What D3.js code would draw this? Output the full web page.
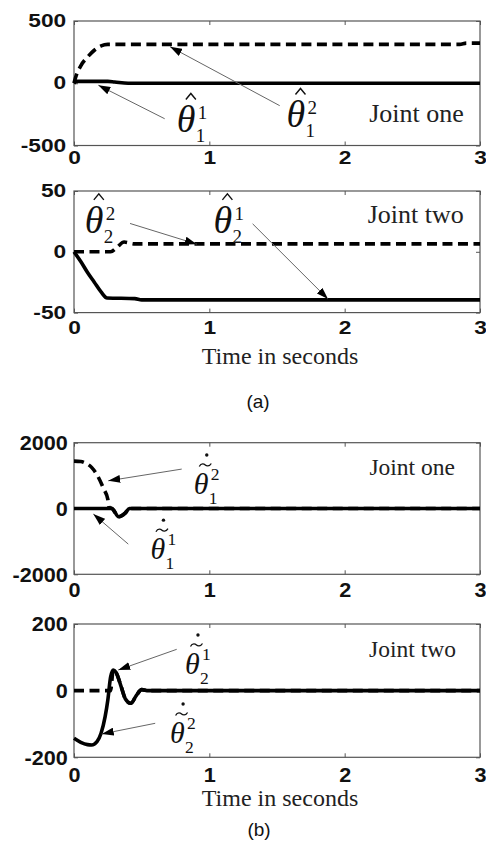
<!DOCTYPE html>
<html>
<head>
<meta charset="utf-8">
<script src="https://cdn.jsdelivr.net/npm/d3@7"></script>
<style>
  html, body { margin: 0; padding: 0; background: #fff; }
  svg { display: block; }
</style>
</head>
<body>
<svg id="fig" width="486" height="841"></svg>
<script>
// ---- shared time axis ----
const timeTicks = [0, 1, 2, 3];

// ---- (a) joint one: parameter estimates ----
const j1EstTimeA = [0, 0.02, 0.25, 0.3, 0.4, 3];
const j1EstA = [0, 15, 15, 10, 0, 0];                       // solid
const j1EstTimeB = [0, 0.01, 0.05, 0.1, 0.15, 0.2, 0.25, 2.85, 2.9, 3];
const j1EstB = [0, 40, 140, 210, 265, 300, 312, 312, 322, 322]; // dashed
const j1EstTicks = [-500, 0, 500];

// ---- (a) joint two: parameter estimates ----
const j2EstTimeA = [0, 0.05, 0.1, 0.15, 0.2, 0.245, 0.45, 0.5, 3];
const j2EstA = [0, -8, -17, -25, -33, -38, -38.5, -39.5, -39.5]; // solid
const j2EstTimeB = [0, 0.27, 0.32, 0.37, 0.45, 3];
const j2EstB = [0, 0, 4, 8, 6.5, 6.5];                           // dashed
const j2EstTicks = [-50, 0, 50];

// ---- (b) joint one: rate errors ----
const j1RateTimeA = [0, 0.28, 0.33, 0.38, 0.41, 3];
const j1RateA = [0, 0, -250, -130, 0, 0];                        // solid
const j1RateTimeB = [0, 0.05, 0.08, 0.13, 0.18, 0.22, 0.25, 0.26, 0.28, 0.33, 0.38, 0.41, 3];
const j1RateB = [1440, 1430, 1390, 1250, 950, 590, 280, 30, 0, -250, -130, 0, 0]; // dashed
const j1RateTicks = [-2000, 0, 2000];

// ---- (b) joint two: rate errors ----
const j2RateTimeA = [0, 0.05, 0.1, 0.13, 0.17, 0.2, 0.23, 0.25, 0.27, 0.29, 0.31, 0.35, 0.38, 0.42, 0.46, 0.5, 0.55, 3];
const j2RateA = [-143, -155, -162, -163, -153, -128, -78, -28, 40, 62, 55, 10, -25, -38, -15, 3, 0, 0]; // solid
const j2RateTimeB = [0, 0.27, 0.29, 0.31, 0.35, 0.38, 0.42, 0.46, 0.5, 0.55, 3];
const j2RateB = [0, 0, 62, 55, 10, -25, -38, -15, 3, 0, 0];      // dashed
const j2RateTicks = [-200, 0, 200];

const SERIF = "'Liberation Serif', 'Times New Roman', serif";
const SANS = "'Liberation Sans', Arial, Helvetica, sans-serif";

const svg = d3.select("#fig");
const defs = svg.append("defs");
defs.append("marker")
  .attr("id", "head")
  .attr("viewBox", "0 0 12 8")
  .attr("refX", 12).attr("refY", 4)
  .attr("markerWidth", 12).attr("markerHeight", 8)
  .attr("markerUnits", "userSpaceOnUse")
  .attr("orient", "auto")
  .append("path").attr("d", "M0,0L12,4L0,8Z").attr("fill", "#000");

const LEFT = 74, RIGHT = 480;

const panels = [
  {
    top: 21, bottom: 145.5, ticks: j1EstTicks, big: true, xPad: 6,
    tickFont: 17.5, tickScale: 1.3,
    solid: [j1EstTimeA, j1EstA], dashed: [j1EstTimeB, j1EstB],
    joint: { text: "Joint one", t: 2.88, v: -315, size: 26 },
    notes: [
      { accent: "hat", sub: "1", sup: "1", at: [0.76, -395], from: [0.67, -285], to: [0.18, -16] },
      { accent: "hat", sub: "1", sup: "2", at: [1.57, -355], from: [1.52, -180], to: [0.71, 293] }
    ]
  },
  {
    top: 191, bottom: 312.6, ticks: j2EstTicks, big: true, xPad: 9,
    tickFont: 17.5, tickScale: 1.3,
    solid: [j2EstTimeA, j2EstA], dashed: [j2EstTimeB, j2EstB],
    joint: { text: "Joint two", t: 2.88, v: 23.8, size: 26 },
    xTitle: { y: 364, size: 24 },
    notes: [
      { accent: "hat", sub: "2", sup: "2", at: [0.08, 15.6], from: [0.414, 23.3], to: [0.907, 6.3] },
      { accent: "hat", sub: "2", sup: "1", at: [1.03, 15.6], from: [1.32, 23], to: [1.877, -38.9] }
    ]
  },
  {
    top: 442.7, bottom: 574.3, ticks: j1RateTicks, big: false, xPad: 7.5,
    tickFont: 21, tickScale: 1.03,
    solid: [j1RateTimeA, j1RateA], dashed: [j1RateTimeB, j1RateB],
    joint: { text: "Joint one", t: 2.815, v: 1024, size: 23.5 },
    notes: [
      { accent: "tildedot", sub: "1", sup: "2", at: [0.885, 440], from: [0.796, 1198], to: [0.253, 842] },
      { accent: "tildedot", sub: "1", sup: "1", at: [0.565, -1540], from: [0.401, -1082], to: [0.143, -170] }
    ]
  },
  {
    top: 624, bottom: 757.3, ticks: j2RateTicks, big: false, xPad: 9.5,
    tickFont: 21, tickScale: 1.03,
    solid: [j2RateTimeA, j2RateA], dashed: [j2RateTimeB, j2RateB],
    joint: { text: "Joint two", t: 2.822, v: 101, size: 23.5 },
    xTitle: { y: 806, size: 24 },
    notes: [
      { accent: "tildedot", sub: "2", sup: "1", at: [0.82, 50], from: [0.759, 124], to: [0.327, 62] },
      { accent: "tildedot", sub: "2", sup: "2", at: [0.71, -157], from: [0.6, -98], to: [0.205, -130] }
    ]
  }
];

// Italic theta with an accent (hat, or tilde topped by a dot), subscript and superscript
function thetaSymbol(g, px, py, note, big) {
  const s = big
    ? { fs: 38, cx: 11, supDx: 21, supDy: -13, subDx: 19, subDy: 10, idx: 19 }
    : { fs: 30, cx: 8.5, supDx: 17, supDy: -14, subDx: 15, subDy: 10, idx: 17.5 };
  const grp = g.append("g").attr("transform", `translate(${px},${py})`);
  grp.append("text")
    .attr("font-family", SERIF).attr("fill", "#111")
    .attr("font-style", "italic").attr("font-size", s.fs).text("θ");
  grp.append("text").attr("x", s.supDx).attr("y", s.supDy)
    .attr("font-family", SERIF).attr("fill", "#111")
    .attr("font-size", s.idx).text(note.sup);
  grp.append("text").attr("x", s.subDx).attr("y", s.subDy)
    .attr("font-family", SERIF).attr("fill", "#111")
    .attr("font-size", s.idx).text(note.sub);

  if (note.accent === "hat") {
    const ax = s.cx + 3, ay = -37;
    grp.append("path")
      .attr("d", `M${ax - 5},${ay + 4}L${ax},${ay - 2}L${ax + 5},${ay + 4}`)
      .attr("fill", "none").attr("stroke", "#111").attr("stroke-width", 1.4);
  } else {
    const ax = s.cx + 3, ay = -29;
    grp.append("path")
      .attr("d", `M${ax - 6},${ay + 1.5}C${ax - 4},${ay - 2.5} ${ax - 1},${ay - 1} ${ax},${ay}S${ax + 4},${ay + 2} ${ax + 6},${ay - 1.5}`)
      .attr("fill", "none").attr("stroke", "#111").attr("stroke-width", 1.3);
    grp.append("circle").attr("cx", ax + 1.5).attr("cy", -39).attr("r", 1.7).attr("fill", "#111");
  }
}

panels.forEach(p => {
  const x = d3.scaleLinear().domain([0, 3]).range([LEFT, RIGHT]);
  const y = d3.scaleLinear().domain([p.ticks[0], p.ticks[2]]).range([p.bottom, p.top]);
  const g = svg.append("g");

  // plot frame
  g.append("rect")
    .attr("x", LEFT).attr("y", p.top)
    .attr("width", RIGHT - LEFT).attr("height", p.bottom - p.top)
    .attr("fill", "none").attr("stroke", "#555").attr("stroke-width", 1.2);

  // axes with inward ticks
  const styleAxis = sel => {
    sel.select(".domain").remove();
    sel.selectAll(".tick line").attr("stroke", "#555").attr("stroke-width", 1);
  };
  const bottomAxis = g.append("g")
    .attr("transform", `translate(0,${p.bottom})`)
    .call(d3.axisBottom(x).tickValues(timeTicks).tickSize(-4).tickPadding(p.xPad).tickFormat(d => String(d)))
    .call(styleAxis);
  const leftAxis = g.append("g")
    .attr("transform", `translate(${LEFT},0)`)
    .call(d3.axisLeft(y).tickValues(p.ticks).tickSize(-4).tickPadding(6).tickFormat(d => String(d)))
    .call(styleAxis);
  [bottomAxis, leftAxis].forEach(a => a.selectAll("text")
    .attr("font-family", SANS).attr("font-weight", "bold")
    .attr("font-size", p.tickFont).attr("fill", "#111")
    .attr("transform", `scale(${p.tickScale},1)`));
  g.append("g")
    .attr("transform", `translate(0,${p.top})`)
    .call(d3.axisTop(x).tickValues(timeTicks).tickSize(-4).tickFormat(""))
    .call(styleAxis);
  g.append("g")
    .attr("transform", `translate(${RIGHT},0)`)
    .call(d3.axisRight(y).tickValues(p.ticks).tickSize(-4).tickFormat(""))
    .call(styleAxis);

  const line = d3.line().x(d => x(d[0])).y(d => y(d[1])).curve(d3.curveMonotoneX);
  const pts = pair => pair[0].map((t, i) => [t, pair[1][i]]);

  g.append("path")
    .attr("d", line(pts(p.dashed)))
    .attr("fill", "none").attr("stroke", "#000").attr("stroke-width", 3.6)
    .attr("stroke-dasharray", "10,5.5");
  g.append("path")
    .attr("d", line(pts(p.solid)))
    .attr("fill", "none").attr("stroke", "#000").attr("stroke-width", 3.6);

  // joint caption
  g.append("text")
    .attr("x", x(p.joint.t)).attr("y", y(p.joint.v))
    .attr("text-anchor", "end")
    .attr("font-family", SERIF).attr("font-size", p.joint.size).attr("fill", "#222")
    .text(p.joint.text);

  // callouts
  p.notes.forEach(n => {
    g.append("line")
      .attr("x1", x(n.from[0])).attr("y1", y(n.from[1]))
      .attr("x2", x(n.to[0])).attr("y2", y(n.to[1]))
      .attr("stroke", "#666").attr("stroke-width", 1)
      .attr("marker-end", "url(#head)");
    thetaSymbol(g, x(n.at[0]), y(n.at[1]), n, p.big);
  });

  if (p.xTitle) {
    g.append("text")
      .attr("x", (LEFT + RIGHT) / 2 + 3).attr("y", p.xTitle.y)
      .attr("text-anchor", "middle")
      .attr("font-family", SERIF).attr("font-size", p.xTitle.size).attr("fill", "#222")
      .text("Time in seconds");
  }
});

// sub-figure tags
svg.append("text").attr("x", 258).attr("y", 407.5).attr("text-anchor", "middle")
  .attr("font-family", SANS).attr("font-size", 19).attr("fill", "#111").text("(a)");
svg.append("text").attr("x", 259).attr("y", 836).attr("text-anchor", "middle")
  .attr("font-family", SANS).attr("font-size", 19).attr("fill", "#111").text("(b)");
</script>
</body>
</html>
